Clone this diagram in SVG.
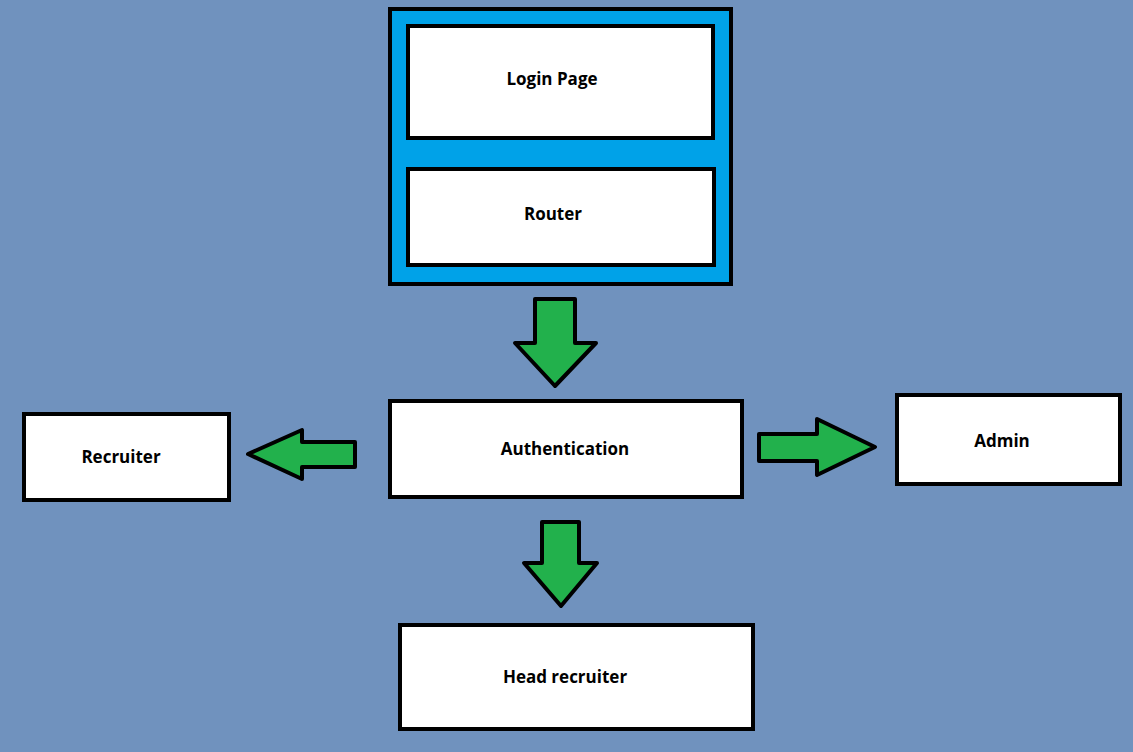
<svg xmlns="http://www.w3.org/2000/svg" width="1133" height="752" viewBox="0 0 1133 752">
<style>
.box{fill:#ffffff;stroke:#000000;stroke-width:4}
.outer{fill:#00a2e8;stroke:#000000;stroke-width:4}
.arr{fill:#22b14c;stroke:#000000;stroke-width:4;stroke-linejoin:round}
text{font-family:"Open Sans","Liberation Sans",sans-serif;font-weight:bold;font-size:17px;fill:#000000;text-anchor:middle}
</style>
<rect x="0" y="0" width="1133" height="752" fill="#7092be"/>
<g id="container">
<rect class="outer" x="390" y="9" width="341" height="275"/>
</g>
<g id="login-page">
<rect class="box" x="408" y="26" width="305" height="112"/>
<text x="552" y="85">Login Page</text>
</g>
<g id="router">
<rect class="box" x="408" y="169" width="306" height="96"/>
<text x="553" y="220">Router</text>
</g>
<g id="authentication">
<rect class="box" x="390" y="401" width="352" height="96"/>
<text x="565" y="455">Authentication</text>
</g>
<g id="recruiter">
<rect class="box" x="24" y="414" width="205" height="86"/>
<text x="121" y="463">Recruiter</text>
</g>
<g id="admin">
<rect class="box" x="897" y="395" width="223" height="89"/>
<text x="1002" y="447">Admin</text>
</g>
<g id="head-recruiter">
<rect class="box" x="400" y="625" width="353" height="104"/>
<text x="565" y="683">Head recruiter</text>
</g>
<g id="connectors">
<polygon class="arr" points="535,299 575,299 575,343 596,343 555,386 515,343 535,343"/>
<polygon class="arr" points="355,442 355,467 302,467 302,479 248,454 302,430 302,442"/>
<polygon class="arr" points="759,434 817,434 817,419 875,447 817,475 817,461 759,461"/>
<polygon class="arr" points="542,522 579,522 579,563 597,563 561,606 524,563 542,563"/>
</g>
</svg>
